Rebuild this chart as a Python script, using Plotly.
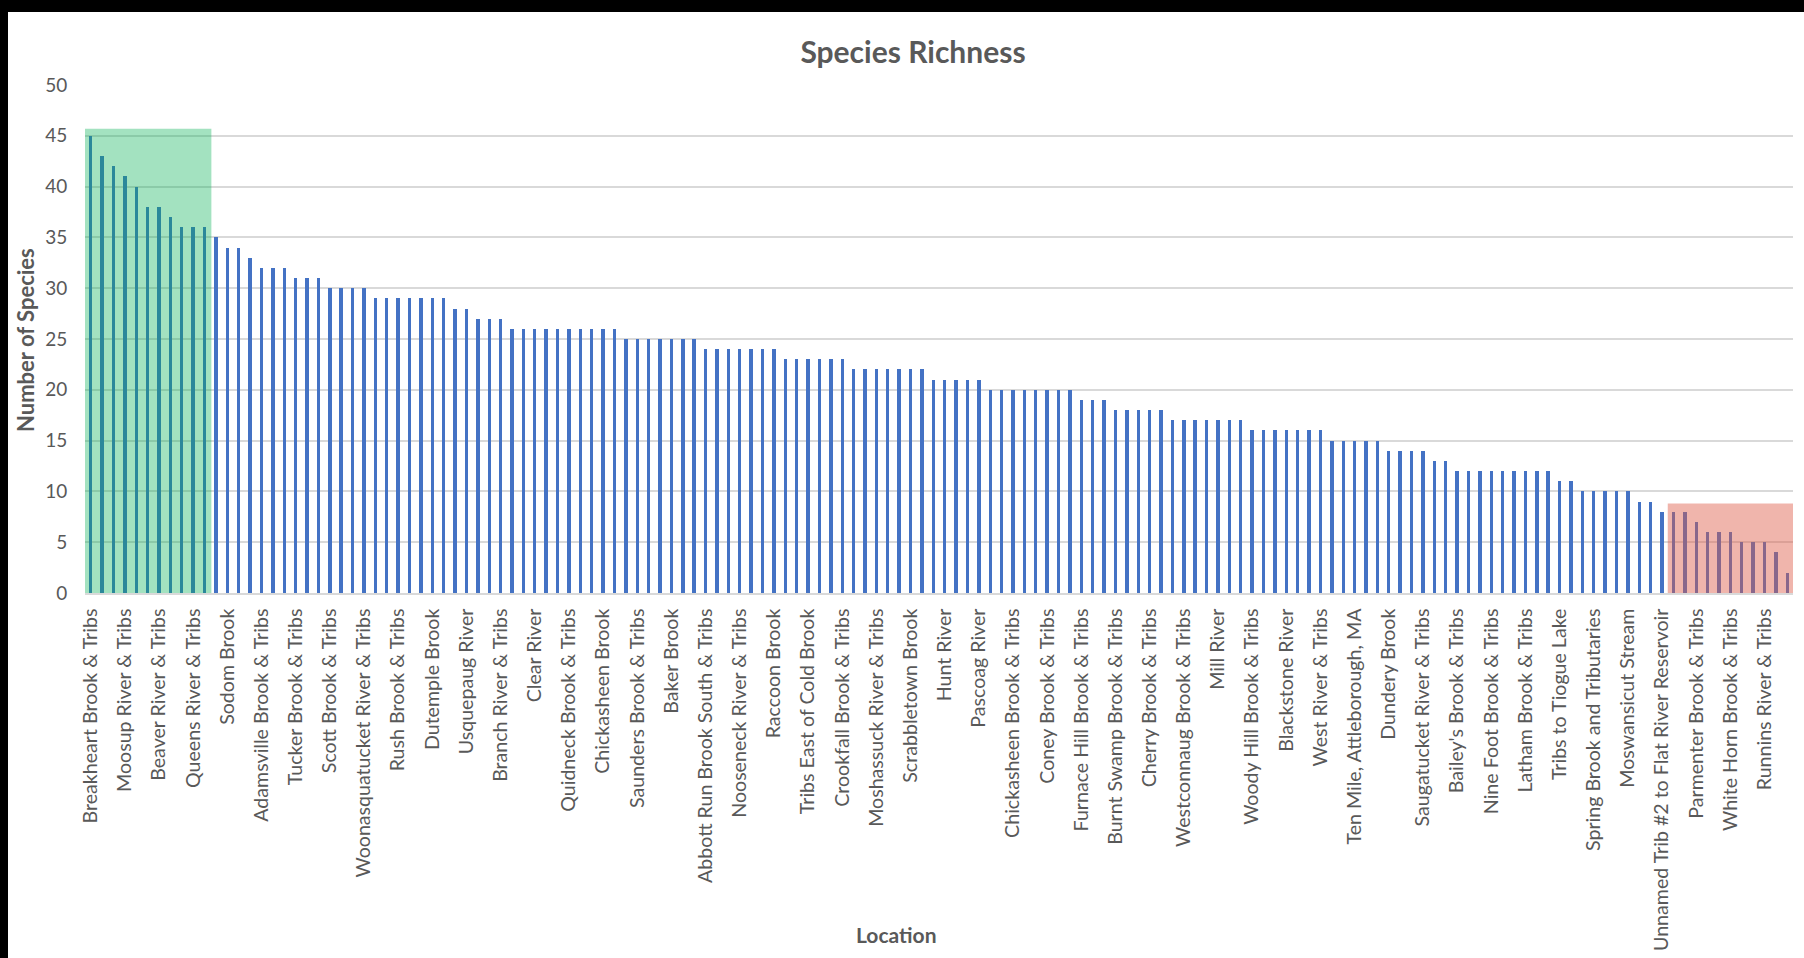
import plotly.graph_objects as go

# Species richness per sampled stream, sorted high to low (150 sites)
richness = [
    45, 43, 42, 41, 40, 38, 38, 37, 36, 36, 36, 35, 34, 34, 33, 32, 32, 32, 31, 31,
    31, 30, 30, 30, 30, 29, 29, 29, 29, 29, 29, 29, 28, 28, 27, 27, 27, 26, 26, 26,
    26, 26, 26, 26, 26, 26, 26, 25, 25, 25, 25, 25, 25, 25, 24, 24, 24, 24, 24, 24,
    24, 23, 23, 23, 23, 23, 23, 22, 22, 22, 22, 22, 22, 22, 21, 21, 21, 21, 21, 20,
    20, 20, 20, 20, 20, 20, 20, 19, 19, 19, 18, 18, 18, 18, 18, 17, 17, 17, 17, 17,
    17, 17, 16, 16, 16, 16, 16, 16, 16, 15, 15, 15, 15, 15, 14, 14, 14, 14, 13, 13,
    12, 12, 12, 12, 12, 12, 12, 12, 12, 11, 11, 10, 10, 10, 10, 10, 9, 9, 8, 8,
    8, 7, 6, 6, 6, 5, 5, 5, 4, 2,
]
site_pos = list(range(len(richness)))

# Only every third location name is printed on the axis
label_pos = site_pos[::3]
label_text = [
    "Breakheart Brook & Tribs", "Moosup River & Tribs", "Beaver River & Tribs",
    "Queens River & Tribs", "Sodom Brook", "Adamsville Brook & Tribs",
    "Tucker Brook & Tribs", "Scott Brook & Tribs", "Woonasquatucket River & Tribs",
    "Rush Brook & Tribs", "Dutemple Brook", "Usquepaug River",
    "Branch River & Tribs", "Clear River", "Quidneck Brook & Tribs",
    "Chickasheen Brook", "Saunders Brook & Tribs", "Baker Brook",
    "Abbott Run Brook South & Tribs", "Nooseneck River & Tribs", "Raccoon Brook",
    "Tribs East of Cold Brook", "Crookfall Brook & Tribs", "Moshassuck River & Tribs",
    "Scrabbletown Brook", "Hunt River", "Pascoag River",
    "Chickasheen Brook & Tribs", "Coney Brook & Tribs", "Furnace Hill Brook & Tribs",
    "Burnt Swamp Brook & Tribs", "Cherry Brook & Tribs", "Westconnaug Brook & Tribs",
    "Mill River", "Woody Hill Brook & Tribs", "Blackstone River",
    "West River & Tribs", "Ten Mile, Attleborough, MA", "Dundery Brook",
    "Saugatucket River & Tribs", "Bailey's Brook & Tribs", "Nine Foot Brook & Tribs",
    "Latham Brook & Tribs", "Tribs to Tiogue Lake", "Spring Brook and Tributaries",
    "Moswansicut Stream", "Unnamed Trib #2 to Flat River Reservoir",
    "Parmenter Brook & Tribs", "White Horn Brook & Tribs", "Runnins River & Tribs",
]

y_ticks = [0, 5, 10, 15, 20, 25, 30, 35, 40, 45, 50]

FONT = "Lato"
GREY = "#595959"

fig = go.Figure(
    go.Bar(
        x=site_pos,
        y=richness,
        width=0.3,
        marker=dict(color="#4472C4", line=dict(width=0)),
        showlegend=False,
    )
)

W, H = 1804, 958
L, R, T, B = 85, 11, 85, 365
pw, ph = W - L - R, H - T - B


def px_x(p):
    return (p - L) / pw


def px_y(p):
    return (H - B - p) / ph


shapes = [
    # richest sites
    dict(type="rect", xref="x", yref="y", x0=-0.5, x1=10.6, y0=0, y1=45.7,
         fillcolor="rgba(0,176,80,0.36)", line=dict(width=0), layer="above"),
    # poorest sites
    dict(type="rect", xref="x", yref="y", x0=138.5, x1=149.5, y0=0, y1=8.8,
         fillcolor="rgba(222,90,72,0.45)", line=dict(width=0), layer="above"),
    # dark frame along the top and left edges
    dict(type="rect", xref="paper", yref="paper", x0=px_x(-20), x1=px_x(W + 20),
         y0=px_y(12), y1=px_y(-20), fillcolor="black", line=dict(width=0)),
    dict(type="rect", xref="paper", yref="paper", x0=px_x(-20), x1=px_x(8),
         y0=px_y(H + 20), y1=px_y(-20), fillcolor="black", line=dict(width=0)),
]

annotations = [
    dict(text="<b>Number of Species</b>", textangle=-90, xref="paper", yref="paper",
         x=px_x(25), y=px_y(340), xanchor="center", yanchor="middle", showarrow=False,
         font=dict(family=FONT, size=22, color=GREY)),
    dict(text="<b>Location</b>", xref="paper", yref="paper",
         x=px_x(896), y=px_y(934), xanchor="center", yanchor="middle", showarrow=False,
         font=dict(family=FONT, size=21, color=GREY)),
]

fig.update_layout(
    width=W,
    height=H,
    margin=dict(l=L, r=R, t=T, b=B),
    paper_bgcolor="white",
    plot_bgcolor="white",
    bargap=0,
    title=dict(text="<b>Species Richness</b>", xref="container", yref="container",
               x=913 / W, y=1 - 52 / H, xanchor="center", yanchor="middle",
               font=dict(family=FONT, size=30, color=GREY)),
    xaxis=dict(
        range=[-0.5, len(richness) - 0.5],
        automargin=False,
        tickmode="array",
        tickvals=label_pos,
        ticktext=label_text,
        tickangle=-90,
        ticks="outside",
        ticklen=6,
        tickcolor="rgba(0,0,0,0)",
        tickfont=dict(family=FONT, size=19.6, color=GREY),
        showgrid=False,
        showline=True,
        linecolor="#D9D9D9",
        linewidth=1.5,
        zeroline=False,
    ),
    yaxis=dict(
        range=[0, 50],
        automargin=False,
        tickmode="array",
        tickvals=y_ticks,
        ticks="outside",
        ticklen=13,
        tickcolor="rgba(0,0,0,0)",
        tickfont=dict(family=FONT, size=19, color=GREY),
        showgrid=True,
        gridcolor="#D9D9D9",
        gridwidth=1.5,
        zeroline=False,
        showline=False,
    ),
    shapes=shapes,
    annotations=annotations,
)

fig.write_html("out.html")
